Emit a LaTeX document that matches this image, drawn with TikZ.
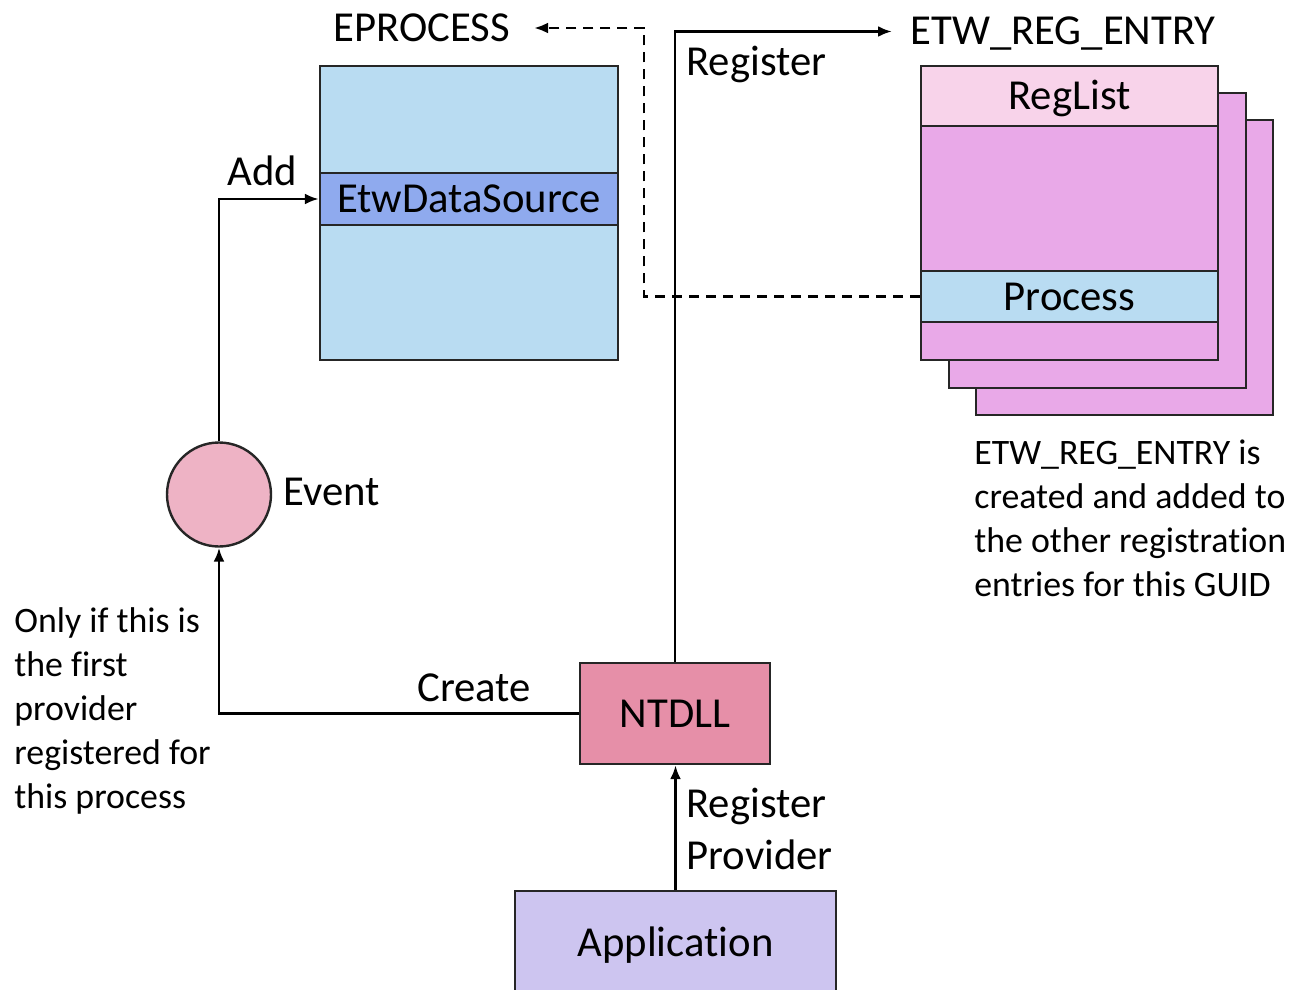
\documentclass[tikz,border=0pt]{standalone}
\usepackage{fontspec}
\setmainfont{Carlito}[Ligatures={NoCommon,NoContextual,NoRequired,NoRare}]
\usetikzlibrary{arrows.meta}

\definecolor{epblue}{HTML}{B9DCF2}
\definecolor{dsblue}{HTML}{8FAAEE}
\definecolor{regpink}{HTML}{F8D3EA}
\definecolor{entrypink}{HTML}{E9A9E8}
\definecolor{eventpink}{HTML}{EEB3C5}
\definecolor{ntdllrose}{HTML}{E68FA8}
\definecolor{applilac}{HTML}{CDC5F0}

\tikzset{
  bigfont/.style={font=\fontsize{21.35}{26}\selectfont, text height=13.5pt, text depth=0pt},
  box/.style={draw=black!85, line width=1.2pt, rectangle, inner sep=0pt, bigfont},
  lbl/.style={inner sep=0pt, bigfont},
  arr/.style={line width=1.4pt, -{Latex[length=7pt,width=5.5pt]}},
  dasharr/.style={arr, dash pattern=on 5pt off 3.5pt},
}

\newcommand{\smalltext}{\fontsize{17.9}{22}\selectfont}

\begin{document}
\begin{tikzpicture}[x=0.5pt, y=-0.5pt]
  \clip (0,0) rectangle (1302,990);

  % EPROCESS structure
  \node[box, fill=epblue, minimum width=149pt, minimum height=147pt] (eproc) at (469,213) {};
  \node[box, fill=dsblue, minimum width=149pt, minimum height=26pt] (etwds) at (469,199) {EtwDataSource};
  \node[lbl] (eplabel) at (421.5,28) {EPROCESS};

  % stack of ETW_REG_ENTRY structures, back to front
  \node[box, fill=entrypink, minimum width=148.5pt, minimum height=147.5pt] (entry3) at (1124.5,267.5) {};
  \node[box, fill=entrypink, minimum width=148.5pt, minimum height=147.5pt] (entry2) at (1097.5,240.5) {};
  \node[box, fill=entrypink, minimum width=148.5pt, minimum height=147pt] (entry1) at (1069.5,213) {};
  \node[box, fill=regpink, minimum width=148.5pt, minimum height=30pt] (reglist) at (1069.5,96) {RegList};
  \node[box, fill=epblue, minimum width=148.5pt, minimum height=25.5pt] (proc) at (1069.5,296.5) {Process};
  \node[lbl, anchor=west] (reglabel) at (910,31.5) {ETW\_REG\_ENTRY};

  % event, ntdll, application
  \node[draw=black!85, line width=1.2pt, circle, fill=eventpink, minimum size=52pt, inner sep=0pt] (event) at (219,494.5) {};
  \node[lbl, anchor=west] (eventlabel) at (283,491.5) {Event};
  \node[box, fill=ntdllrose, minimum width=95pt, minimum height=50.5pt] (ntdll) at (675,713.5) {NTDLL};
  \node[box, fill=applilac, minimum width=160.5pt, minimum height=51.5pt] (app) at (675.5,942.5) {Application};

  % notes
  \node[inner sep=0pt, anchor=base west] (leftnote) at (14,632)
    {\smalltext\begin{tabular}[t]{@{}l@{}}Only if this is\\the first\\provider\\registered for\\this process\end{tabular}};
  \node[inner sep=0pt, anchor=base west] (rightnote) at (974,464.5)
    {\smalltext\begin{tabular}[t]{@{}l@{}}ETW\_REG\_ENTRY is\\created and added to\\the other registration\\entries for this GUID\end{tabular}};

  % connectors
  \coordinate (dashcorner) at (644,28);
  \draw[dasharr, shorten >=12pt] (proc.west) -| (dashcorner) -- (eplabel.east);
  \draw[arr, shorten >=9pt] (ntdll.north) |- (reglabel.west);
  \node[lbl, anchor=west] (reglbl) at (686,62) {Register};
  \draw[arr] (event.north) |- (etwds.west);
  \node[lbl, anchor=west] (addlbl) at (227,172) {Add};
  \draw[arr] (ntdll.west) -| (event.south);
  \node[lbl, anchor=west] (createlbl) at (417,688) {Create};
  \draw[arr] (app.north) -- (app.north |- ntdll.south);
  \node[inner sep=0pt, anchor=base west] (reglbl2) at (686,817)
    {\fontsize{21.35}{26}\selectfont\begin{tabular}[t]{@{}l@{}}Register\\Provider\end{tabular}};
\end{tikzpicture}
\end{document}
